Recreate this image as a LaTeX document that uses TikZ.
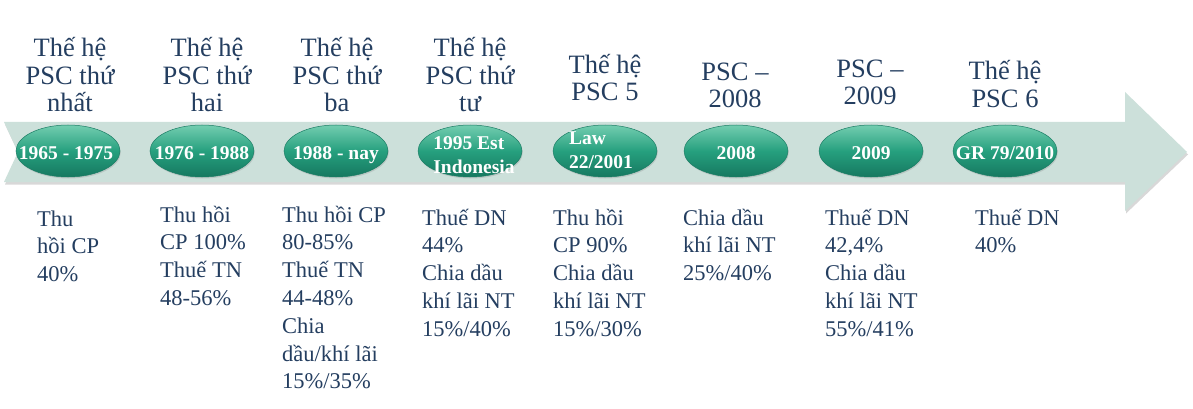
\documentclass[tikz,border=0pt]{standalone}
\usepackage{fontspec}
\setmainfont{Liberation Serif}
\usetikzlibrary{shadows,shapes.geometric}
\definecolor{txt}{RGB}{36,62,96}
\definecolor{band}{RGB}{204,224,218}
\definecolor{ellmid}{RGB}{38,160,126}
\definecolor{elltop}{RGB}{115,205,176}
\definecolor{ellbot}{RGB}{22,120,96}
\definecolor{elledge}{RGB}{28,125,101}
\begin{document}
\begin{tikzpicture}[x=1pt,y=-1pt,
  title/.style={font=\fontsize{26.5}{27.5}\selectfont, text=txt, align=center, anchor=base, inner sep=0pt},
  body/.style={font=\fontsize{22.5}{27.8}\selectfont, text=txt, align=left, anchor=base west, inner sep=0pt},
  era/.style={ellipse, minimum width=104pt, minimum height=52pt, inner sep=0pt, draw=elledge, line width=0.5pt,
    top color=elltop, bottom color=ellbot, middle color=ellmid,
    drop shadow={shadow xshift=0.8pt, shadow yshift=-1.5pt, opacity=0.25}},
  eratext/.style={font=\bfseries\fontsize{19.5}{24}\selectfont, text=white, align=left, inner sep=0pt}
]
\fill[white] (0,0) rectangle (1193,409);
\useasboundingbox (0,0) rectangle (1193,409);
% band arrow
\fill[band, drop shadow={shadow xshift=1pt, shadow yshift=-2.5pt, opacity=0.3}]
  (4,122) -- (1125,122) -- (1125,92) -- (1187,152) -- (1125,211) -- (1125,182) -- (4,182) -- (18,152) -- cycle;
% titles (anchored at the baseline of their last line)
\node[title] (t1) at (70,112) {Thế hệ\\PSC thứ\\nhất};
\node[title] (t2) at (207,112) {Thế hệ\\PSC thứ\\hai};
\node[title] (t3) at (337,112) {Thế hệ\\PSC thứ\\ba};
\node[title] (t4) at (470,112) {Thế hệ\\PSC thứ\\tư};
\node[title] (t5) at (605,101) {Thế hệ\\PSC 5};
\node[title] (t6) at (735,108) {PSC –\\2008};
\node[title] (t7) at (870,105) {PSC –\\2009};
\node[title] (t8) at (1005,107) {Thế hệ\\PSC 6};
% ellipses
\node[era] (e1) at (68,151) {};
\node[era] (e2) at (202,151) {};
\node[era] (e3) at (336,151) {};
\node[era] (e4) at (470,151) {};
\node[era] (e5) at (605,151) {};
\node[era] (e6) at (736,151) {};
\node[era] (e7) at (871,151) {};
\node[era] (e8) at (1005,151) {};
\node[eratext, anchor=base] (l1) at (66,159) {1965 - 1975};
\node[eratext, anchor=base] (l2) at (202,159) {1976 - 1988};
\node[eratext, anchor=base] (l3) at (336,159) {1988 - nay};
\node[eratext] (l4) at (474,155) {1995 Est\\Indonesia};
\node[eratext] (l5) at (601,150) {Law\\22/2001};
\node[eratext, anchor=base] (l6) at (736,159) {2008};
\node[eratext, anchor=base] (l7) at (871,159) {2009};
\node[eratext, anchor=base] (l8) at (1005,159) {GR 79/2010};
% body texts (anchored at the baseline of their last line)
\node[body] (b1) at (37,281.6) {Thu\\hồi CP\\40\%};
\node[body] (b2) at (160,305.4) {Thu hồi\\CP 100\%\\Thuế TN\\48-56\%};
\node[body] (b3) at (282,388.8) {Thu hồi CP\\80-85\%\\Thuế TN\\44-48\%\\Chia\\dầu/khí lãi\\15\%/35\%};
\node[body] (b4) at (422,336.2) {Thuế DN\\44\%\\Chia dầu\\khí lãi NT\\15\%/40\%};
\node[body] (b5) at (553,336.2) {Thu hồi\\CP 90\%\\Chia dầu\\khí lãi NT\\15\%/30\%};
\node[body] (b6) at (683,280.6) {Chia dầu\\khí lãi NT\\25\%/40\%};
\node[body] (b7) at (825,336.2) {Thuế DN\\42,4\%\\Chia dầu\\khí lãi NT\\55\%/41\%};
\node[body] (b8) at (975,252.8) {Thuế DN\\40\%};
\end{tikzpicture}
\end{document}
